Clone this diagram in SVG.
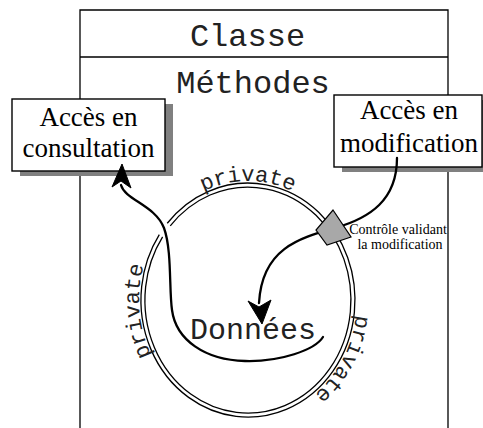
<svg xmlns="http://www.w3.org/2000/svg" xmlns:xlink="http://www.w3.org/1999/xlink" width="483" height="428" viewBox="0 0 483 428">
<style>
.mono{font-family:"Liberation Mono","Courier New",monospace;fill:#222}
.serif{font-family:"Liberation Serif","Times New Roman",serif;fill:#000}
.box{fill:#fff;stroke:#000;stroke-width:1.4}
.shadow{fill:#808080}
.ln{fill:none;stroke:#000;stroke-width:1.3}
.arr{fill:none;stroke:#000;stroke-width:2.3;stroke-linecap:round}
.head{fill:#000;stroke:#000;stroke-width:1;stroke-linejoin:miter}
</style>
<defs>
<path id="ringText" d="M248,419 A109,119 0 1 1 248,181 A109,119 0 1 1 248,419"/>
</defs>
<rect width="483" height="428" fill="#fff"/>
<g id="classe">
<path class="ln" d="M80,428 V10 H448 V428 M80,57 H448"/>
<text class="mono" x="247.5" y="46" font-size="32" text-anchor="middle">Classe</text>
<text class="mono" x="253" y="93" font-size="32" text-anchor="middle">Méthodes</text>
</g>
<g id="donnees">
<path class="ln" d="M167.25,223.24 A107,117 0 1 1 159.29,234.57"/>
<path class="ln" d="M170.27,225.86 A103,113 0 1 1 162.6,236.8"/>
<text class="mono" font-size="22"><textPath xlink:href="#ringText" href="#ringText" startOffset="168" text-anchor="middle">private</textPath></text>
<text class="mono" font-size="22"><textPath xlink:href="#ringText" href="#ringText" startOffset="358" text-anchor="middle">private</textPath></text>
<text class="mono" font-size="22"><textPath xlink:href="#ringText" href="#ringText" startOffset="598" text-anchor="middle">private</textPath></text>
<text class="mono" x="253" y="339" font-size="30" text-anchor="middle">Données</text>
</g>
<g id="consultation">
<rect class="shadow" x="20" y="104" width="153" height="72"/>
<rect class="box" x="12" y="99" width="153" height="72"/>
<text class="serif" x="88.5" y="126" font-size="27" text-anchor="middle">Accès en</text>
<text class="serif" x="88.5" y="157" font-size="27" text-anchor="middle">consultation</text>
</g>
<g id="modification">
<rect class="shadow" x="342" y="100" width="148" height="72"/>
<rect class="box" x="334" y="95" width="148" height="72"/>
<text class="serif" x="409" y="119" font-size="27" text-anchor="middle">Accès en</text>
<text class="serif" x="409" y="152" font-size="27" text-anchor="middle">modification</text>
</g>
<g id="connectors">
<path class="arr" d="M397,158 C397,200 370,218 335,228 C300,238 262,248 259,303"/>
<path class="head" d="M262,324 L248,301 L259,307 L271,300 Z"/>
<path class="arr" d="M121,185 C125,200 155,205 164,228 C172,250 169,290 172,310 C176,340 205,360 245,361 C280,362 315,350 323,337"/>
<path class="head" d="M122,164 L112,187 L121,181 L131,188 Z"/>
</g>
<g id="controle">
<polygon points="333,210 351,237 327,245 316,230" fill="#a8a8a8" stroke="#000" stroke-width="1.2"/>
<text class="serif" x="398" y="234" font-size="14" text-anchor="middle">Contrôle validant</text>
<text class="serif" x="400" y="249" font-size="14" text-anchor="middle">la modification</text>
</g>
</svg>
